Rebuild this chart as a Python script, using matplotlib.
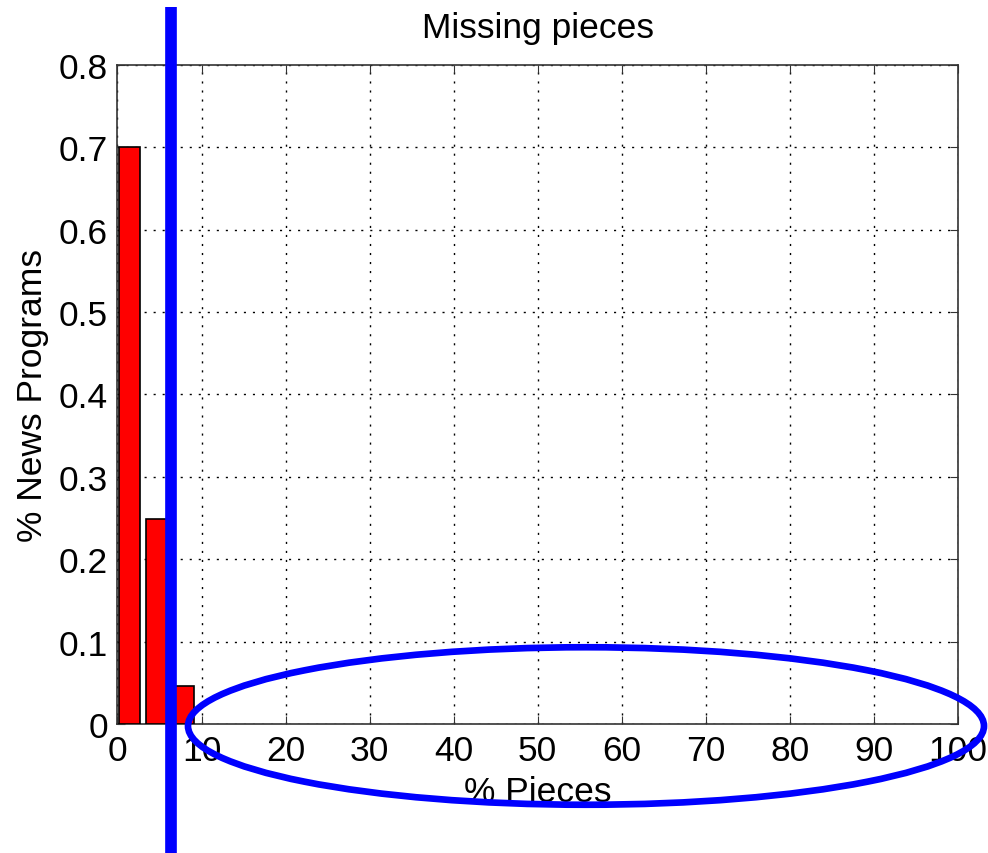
import matplotlib
matplotlib.use('Agg')
import matplotlib.pyplot as plt
from matplotlib.patches import Ellipse
from matplotlib.lines import Line2D

# histogram of missing pieces (fraction of news programs)
bin_centers = [1.45, 4.65, 7.85]
fractions = [0.701, 0.249, 0.046]
xticks = [0, 10, 20, 30, 40, 50, 60, 70, 80, 90, 100]
yticks = [0, 0.1, 0.2, 0.3, 0.4, 0.5, 0.6, 0.7, 0.8]


def main():
    plt.rcParams['font.family'] = ['Liberation Sans', 'DejaVu Sans']
    plt.rcParams['font.size'] = 25.5

    fig = plt.figure(figsize=(9.88, 8.54), dpi=100)
    ax = fig.add_axes([0.1189, 0.1511, 0.9696 - 0.1189, 0.9227 - 0.1511])

    ax.bar(bin_centers, fractions, width=2.45, color='red',
           edgecolor='black', linewidth=1.2, zorder=3)

    ax.set_xlim(0, 100)
    ax.set_ylim(0, 0.8)
    ax.set_xticks(xticks)
    ax.set_yticks(yticks)
    ax.set_xticklabels([str(t) for t in xticks])
    ax.set_yticklabels(['0'] + ['%.1f' % t for t in yticks[1:]])
    ax.grid(True, color='black', linestyle=(0, (1.5, 5)), linewidth=1.0)
    ax.set_axisbelow(True)
    ax.tick_params(direction='in', length=6, top=True, right=True,
                   labelsize=25.5, pad=7, color='#333333')
    for s in ax.spines.values():
        s.set_color('#333333')
        s.set_linewidth(1.2)

    ax.set_title('Missing pieces', fontsize=25.5, pad=20)
    ax.set_xlabel('% Pieces', fontsize=25.5, labelpad=6)
    ax.set_ylabel('% News Programs', fontsize=25.5, labelpad=7)

    # blue annotations drawn over the figure
    W, H = 988.0, 854.0
    fig.add_artist(Line2D([171 / W, 171 / W], [0, 1 - 8 / H], color='blue',
                          linewidth=8.4, solid_capstyle='butt',
                          transform=fig.transFigure))
    fig.add_artist(Ellipse((586 / W, 1 - 727 / H), 796 / W, 157.5 / H,
                           fill=False, edgecolor='blue', linewidth=4.8,
                           transform=fig.transFigure))

    fig.savefig('out.png', dpi=100)


if __name__ == '__main__':
    main()
